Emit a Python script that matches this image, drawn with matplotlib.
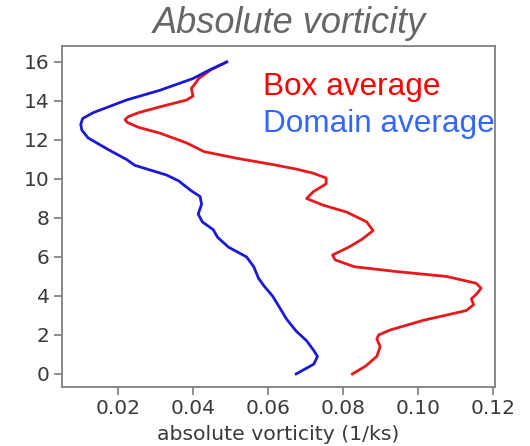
import matplotlib
matplotlib.use("Agg")
import matplotlib.pyplot as plt

# Box average (red): height (km) and absolute vorticity (1/ks)
box_height = [0.0, 0.4, 0.9, 1.4, 1.8, 2.0, 2.25, 2.75, 3.25, 3.55, 3.85, 4.1, 4.4, 4.65,
              5.0, 5.25, 5.5, 5.85, 6.1, 6.5, 6.9, 7.35, 7.8, 8.3, 8.65, 9.0, 9.35, 9.75,
              10.05, 10.3, 10.5, 10.75, 11.05, 11.4, 11.85, 12.35, 12.65, 12.9, 13.05, 13.2,
              13.4, 13.7, 14.05, 14.25, 14.65, 15.0, 15.15, 15.6, 16.0]
box_vort = [0.0825, 0.0860, 0.0890, 0.0899, 0.0890, 0.0895, 0.0925, 0.1014, 0.1128, 0.1148,
            0.1142, 0.1156, 0.1168, 0.1155, 0.1076, 0.0943, 0.0830, 0.0779, 0.0772, 0.0815,
            0.0850, 0.0880, 0.0863, 0.0810, 0.0748, 0.0703, 0.0721, 0.0755, 0.0755, 0.0720,
            0.0677, 0.0610, 0.0520, 0.0430, 0.0383, 0.0312, 0.0255, 0.0225, 0.0219, 0.0228,
            0.0255, 0.0312, 0.0383, 0.0400, 0.0396, 0.0410, 0.0415, 0.0448, 0.0490]

# Domain average (blue)
dom_height = [0.0, 0.5, 0.9, 1.2, 1.7, 2.2, 2.8, 3.5, 4.0, 4.5, 4.9, 5.5, 6.0, 6.5, 7.0,
              7.4, 7.8, 8.2, 8.7, 9.1, 9.4, 9.9, 10.2, 10.7, 11.0, 11.5, 12.1, 12.5, 12.8,
              13.1, 13.4, 14.05, 14.55, 15.15, 15.6, 16.0]
dom_vort = [0.0675, 0.0722, 0.0732, 0.0722, 0.0703, 0.0675, 0.0650, 0.0628, 0.0612, 0.0590,
            0.0575, 0.0562, 0.0543, 0.0495, 0.0466, 0.0454, 0.0425, 0.0414, 0.0423, 0.0419,
            0.0395, 0.0362, 0.0330, 0.0245, 0.0223, 0.0175, 0.0121, 0.0104, 0.0101, 0.0106,
            0.0134, 0.0223, 0.0312, 0.0400, 0.0445, 0.0490]

xticks = [0.02, 0.04, 0.06, 0.08, 0.10, 0.12]
yticks = [0, 2, 4, 6, 8, 10, 12, 14, 16]

W, H = 530, 446
fig = plt.figure(figsize=(W / 100, H / 100), dpi=100)
ax = fig.add_axes([62 / W, 1 - 387 / H, (495 - 62) / W, (387 - 46) / H])

ax.plot(box_vort, box_height, color="#e8191c", lw=2.0, solid_joinstyle="round")
ax.plot(dom_vort, dom_height, color="#1a1ad6", lw=2.0, solid_joinstyle="round")

ax.set_xlim(0.0051, 0.1205)
ax.set_ylim(-0.67, 16.82)
ax.set_xticks(xticks)
ax.set_xticklabels([f"{v:.2f}" for v in xticks])
ax.set_yticks(yticks)

ax.tick_params(axis="both", labelsize=14.5, labelcolor="#3a3a3a", color="#707070",
               length=6, width=1.1, pad=3)
for s in ax.spines.values():
    s.set_color("#808080")
    s.set_linewidth(1.3)

ax.set_xlabel("absolute vorticity (1/ks)", fontsize=14.7, color="#3a3a3a", labelpad=5)

fig.text(289 / W, 1 - 33 / H, "Absolute vorticity", fontsize=26, style="italic",
         color="#666666", ha="center", va="baseline", family="Liberation Sans")
fig.text(263 / W, 1 - 95 / H, "Box average", fontsize=22.7, color="#ff0000",
         ha="left", va="baseline", family="Liberation Sans")
fig.text(263 / W, 1 - 132 / H, "Domain average", fontsize=22.7, color="#3366ff",
         ha="left", va="baseline", family="Liberation Sans")

fig.savefig("out.png", dpi=100)
